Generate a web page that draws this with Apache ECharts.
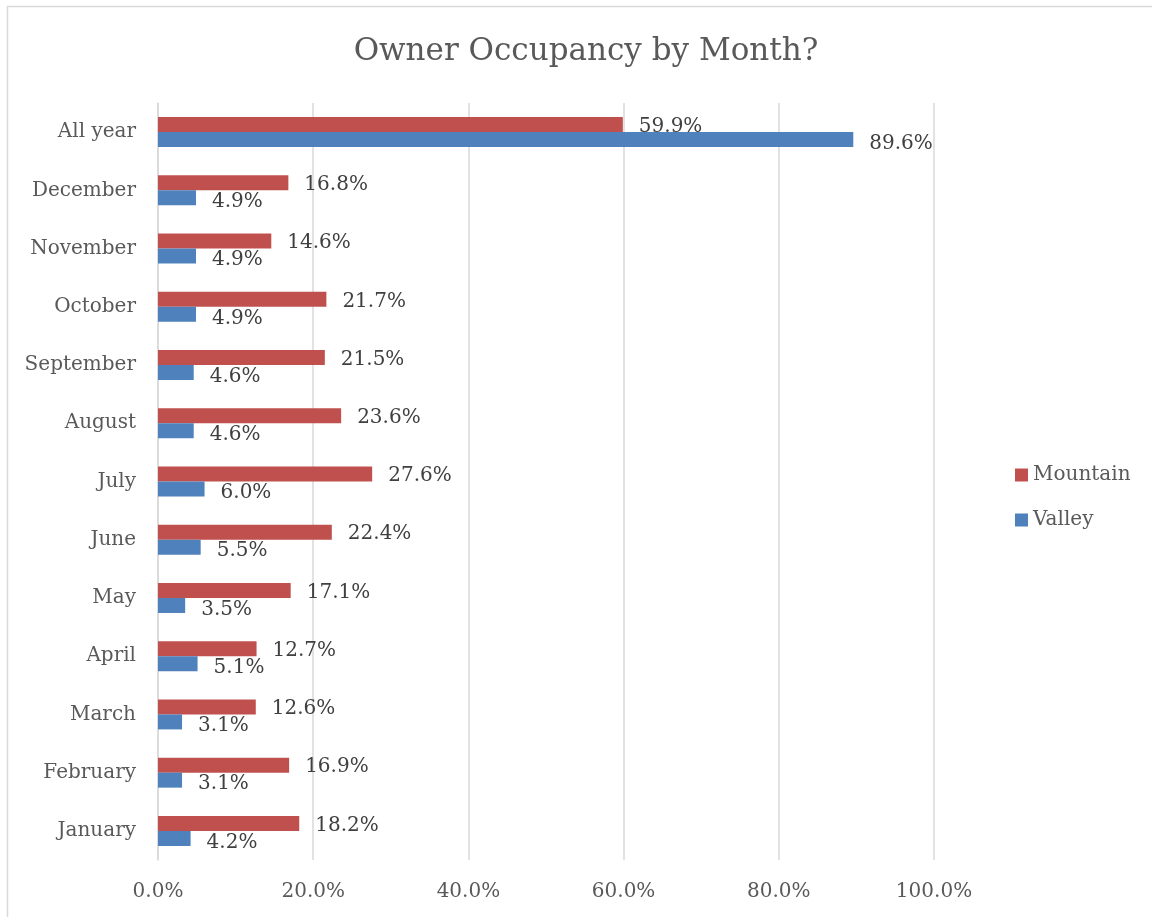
<!DOCTYPE html>
<html>
<head>
<meta charset="utf-8">
<script src="https://cdn.jsdelivr.net/npm/echarts@6/dist/echarts.min.js"></script>
<style>
  html, body { margin: 0; padding: 0; background: #fff; }
  #chart { width: 1152px; height: 917px; }
</style>
</head>
<body>
<div id="chart"></div>
<script>
const months = ['January', 'February', 'March', 'April', 'May', 'June', 'July',
  'August', 'September', 'October', 'November', 'December', 'All year']
const mountain = [18.2, 16.9, 12.6, 12.7, 17.1, 22.4, 27.6, 23.6, 21.5, 21.7, 14.6, 16.8, 59.9]
const valley = [4.2, 3.1, 3.1, 5.1, 3.5, 5.5, 6.0, 4.6, 4.6, 4.9, 4.9, 4.9, 89.6]

const font = 'DejaVu Serif'
const pct = v => v.toFixed(1) + '%'

const options = {
  animation: false,
  title: {
    text: 'Owner Occupancy by Month?',
    left: 581,
    textAlign: 'center',
    top: 31,
    textStyle: { color: '#595959', fontFamily: font, fontSize: 31, fontWeight: 'normal' }
  },
  legend: {
    orient: 'vertical',
    left: 1010,
    top: 460,
    icon: 'rect',
    itemWidth: 13,
    itemHeight: 13,
    itemGap: 25,
    data: ['Mountain', 'Valley'],
    textStyle: { color: '#595959', fontFamily: font, fontSize: 20 }
  },
  graphic: [{
    type: 'rect',
    shape: { x: 7.5, y: 6.5, width: 1160, height: 930 },
    style: { fill: 'none', stroke: '#d9d9d9', lineWidth: 1.5 }
  }],
  grid: { left: 158, right: 218, top: 103, bottom: 57 },
  xAxis: {
    type: 'value',
    min: 0,
    max: 100,
    interval: 20,
    axisLabel: {
      formatter: pct, color: '#595959', fontFamily: font, fontSize: 20, margin: 22
    },
    splitLine: { lineStyle: { color: '#d9d9d9', width: 1.5 } }
  },
  yAxis: {
    type: 'category',
    data: months,
    axisLine: { lineStyle: { color: '#d9d9d9', width: 1.5 } },
    axisTick: { show: false },
    axisLabel: { color: '#595959', fontFamily: font, fontSize: 20, margin: 22 }
  },
  series: [
    {
      name: 'Mountain',
      type: 'bar',
      data: mountain,
      barWidth: 15,
      barGap: '0%',
      itemStyle: { color: '#c0504d' },
      label: {
        show: true, position: 'right', distance: 16, offset: [0, 2],
        formatter: p => pct(p.value),
        color: '#404040', fontFamily: font, fontSize: 20
      }
    },
    {
      name: 'Valley',
      type: 'bar',
      data: valley,
      barWidth: 15,
      barGap: '0%',
      itemStyle: { color: '#4f81bd' },
      label: {
        show: true, position: 'right', distance: 16, offset: [0, 4],
        formatter: p => pct(p.value),
        color: '#404040', fontFamily: font, fontSize: 20
      }
    }
  ]
}

const chart = echarts.init(document.getElementById('chart'))
chart.setOption(options)
window.addEventListener('resize', function () {
  chart && chart.resize()
})
</script>
</body>
</html>
